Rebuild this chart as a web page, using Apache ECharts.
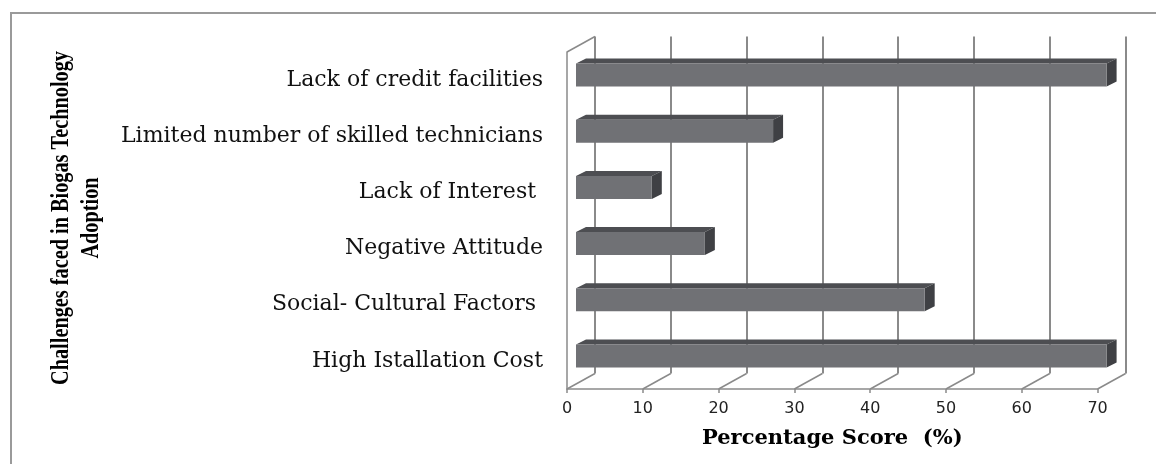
<!DOCTYPE html>
<html>
<head>
<meta charset="utf-8">
<script src="https://cdn.jsdelivr.net/npm/echarts@6/dist/echarts.min.js"></script>
<style>
  html, body { margin: 0; padding: 0; background: #fff; }
  #chart { width: 1156px; height: 464px; }
</style>
</head>
<body>
<div id="chart"></div>
<script>
// categories, top to bottom
const categories = [
  'Lack of credit facilities',
  'Limited number of skilled technicians',
  'Lack of Interest ',
  'Negative Attitude',
  'Social- Cultural Factors ',
  'High Istallation Cost'
];
const scores = [70, 26, 10, 17, 46, 70];
const xTicks = [0, 10, 20, 30, 40, 50, 60, 70];

const lineGray = '#8a8a8a';
const DX = 28, DY = -15.5;     // depth of the 3D box
const BDX = 10, BDY = -5;      // depth of each bar

const chart = echarts.init(document.getElementById('chart'));

// floor lines + left wall, drawn on the front grid
function renderWalls(params, api) {
  const cs = params.coordSys;
  const x = api.coord([api.value(0), 0])[0];
  const bottom = cs.y + cs.height;
  const children = [{
    type: 'line',
    shape: { x1: x, y1: bottom, x2: x + DX, y2: bottom + DY },
    style: { stroke: lineGray, lineWidth: 1.5 }
  }];
  if (params.dataIndex === 0) {
    children.push({
      type: 'line',
      shape: { x1: x, y1: cs.y, x2: x + DX, y2: cs.y + DY },
      style: { stroke: lineGray, lineWidth: 1.5 }
    });
  }
  return { type: 'group', children };
}

function renderBar(params, api) {
  const idx = api.value(1);
  const start = api.coord([0, idx]);
  const end = api.coord([api.value(0), idx]);
  const band = api.size([0, 1])[1];
  const h = band * 0.41;
  const x0 = start[0], x1 = end[0];
  const y0 = start[1] - h / 2, y1 = y0 + h;
  return {
    type: 'group',
    children: [
      { type: 'polygon', shape: { points: [[x0, y0], [x0 + BDX, y0 + BDY], [x1 + BDX, y0 + BDY], [x1, y0]] },
        style: { fill: '#4d4e52' } },
      { type: 'polygon', shape: { points: [[x1, y0], [x1 + BDX, y0 + BDY], [x1 + BDX, y1 + BDY], [x1, y1]] },
        style: { fill: '#3f4044' } },
      { type: 'rect', shape: { x: x0, y: y0, width: x1 - x0, height: h },
        style: { fill: '#707175' } }
    ]
  };
}

chart.setOption({
  animation: false,
  grid: [
    { left: 567, top: 52, width: 530.6, height: 337 },   // front
    { left: 595, top: 36.5, width: 530.6, height: 337 }, // back wall
    { left: 576, top: 47, width: 530.6, height: 337 }    // bars
  ],
  xAxis: [
    {
      gridIndex: 0, type: 'value', min: 0, max: 70, interval: 10,
      axisLine: { show: true, lineStyle: { color: lineGray, width: 1.5 } },
      axisTick: { show: true, length: 4, lineStyle: { color: lineGray, width: 1.5 } },
      axisLabel: { margin: 12, fontFamily: 'DejaVu Sans', fontSize: 16, color: '#222' },
      splitLine: { show: false },
      name: 'Percentage Score  (%)', nameLocation: 'middle', nameGap: 39,
      nameTextStyle: { fontFamily: 'DejaVu Serif', fontWeight: 'bold', fontSize: 21, color: '#000' }
    },
    {
      gridIndex: 1, type: 'value', min: 0, max: 70, interval: 10,
      axisLine: { show: false }, axisTick: { show: false }, axisLabel: { show: false },
      splitLine: { show: true, lineStyle: { color: lineGray, width: 2 } }
    },
    {
      gridIndex: 2, type: 'value', min: 0, max: 70, show: false
    }
  ],
  yAxis: [
    {
      gridIndex: 0, type: 'category', data: categories, inverse: true,
      axisLine: { show: true, lineStyle: { color: lineGray, width: 1.5 } },
      axisTick: { show: false },
      axisLabel: { margin: 24, fontFamily: 'DejaVu Serif', fontSize: 22, color: '#111' },
      splitLine: { show: false }
    },
    { gridIndex: 1, type: 'category', data: categories, inverse: true, show: false },
    { gridIndex: 2, type: 'category', data: categories, inverse: true, show: false }
  ],
  series: [
    {
      type: 'custom', xAxisIndex: 0, yAxisIndex: 0,
      data: xTicks.map(v => [v, 0]),
      renderItem: renderWalls, silent: true, z: 1
    },
    {
      type: 'custom', xAxisIndex: 2, yAxisIndex: 2,
      data: scores.map((v, i) => [v, i]),
      encode: { x: 0, y: 1 },
      renderItem: renderBar, z: 3
    }
  ],
  graphic: [
    {
      type: 'rect', shape: { x: 11, y: 13, width: 1200, height: 500 },
      style: { fill: 'none', stroke: '#9a9a9a', lineWidth: 2 }, silent: true
    },
    {
      type: 'text', x: 76, y: 218, rotation: Math.PI / 2, scaleX: 0.78,
      style: {
        text: 'Challenges faced in Biogas Technology\nAdoption',
        font: 'bold 26px "Liberation Serif"', lineHeight: 30,
        textAlign: 'center', textVerticalAlign: 'middle', fill: '#000'
      }
    }
  ]
});
</script>
</body>
</html>
